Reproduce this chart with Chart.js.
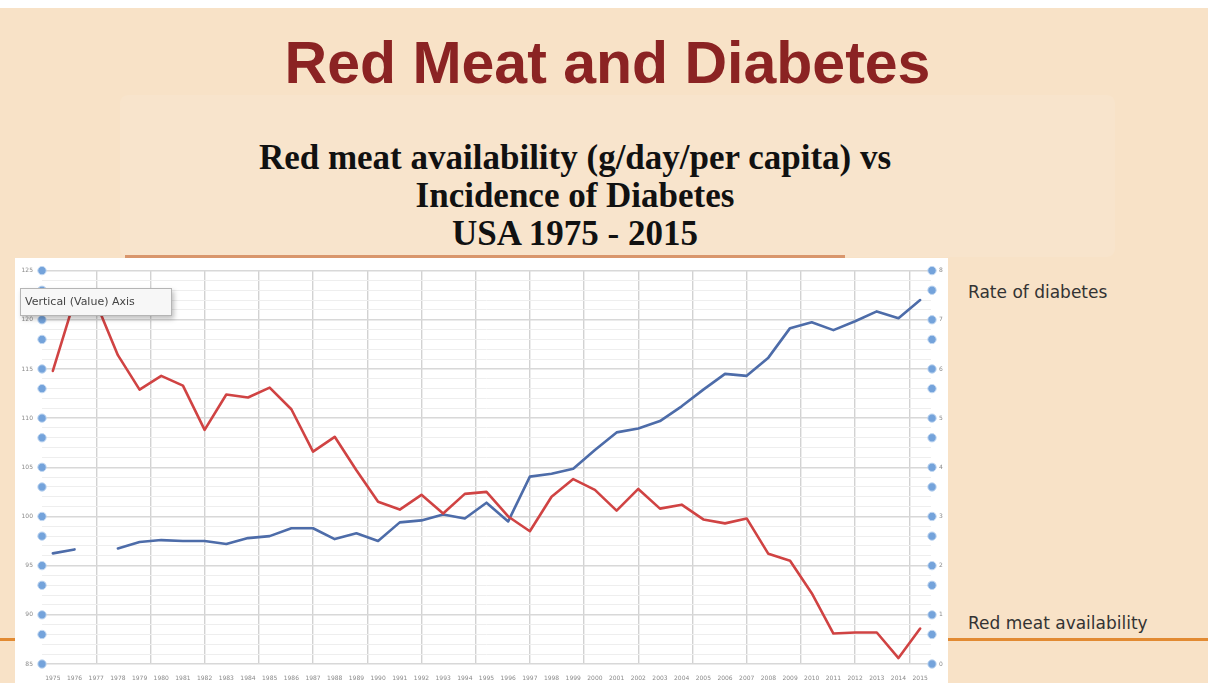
<!DOCTYPE html>
<html>
<head>
<meta charset="utf-8">
<script src="https://cdn.jsdelivr.net/npm/chart.js@4.4.0/dist/chart.umd.min.js"></script>
<style>
  html, body { margin: 0; padding: 0; background: #fff; }
  body { width: 1215px; height: 689px; position: relative; overflow: hidden; }
  .slide { position: absolute; left: 0; top: 8px; width: 1208px; height: 675px; background: #f8e2c7; }
  .panel { position: absolute; left: 120px; top: 95px; width: 995px; height: 162px; background: rgba(255,255,255,0.09); border-radius: 8px; }
  .title { position: absolute; left: 0; top: 29px; width: 1215px; text-align: center;
           font: bold 59px/68px "Liberation Sans", Arial, sans-serif; color: #8b2323; }
  .subtitle { position: absolute; left: 0; top: 139px; width: 1150px; text-align: center;
              font: bold 35px/38px "Liberation Serif", "Times New Roman", serif; color: #111; }
  .rule { position: absolute; left: 125px; top: 255px; width: 720px; height: 3px; background: #d9966c; }
  .chartbox { position: absolute; left: 15px; top: 258px; width: 933px; height: 425px; background: #fff; }
  .orange { position: absolute; top: 638px; height: 3px; background: #e28a32; }
  .side { position: absolute; left: 968px; font: 17px/18px "DejaVu Sans", Verdana, sans-serif; color: #333; }
  .tip { position: absolute; left: 20px; top: 288px; width: 146px; height: 26px; background: #f7f7f7;
         border: 1px solid #b5b5b5; box-shadow: 2px 3px 5px rgba(0,0,0,0.25);
         font: 11px/26px "DejaVu Sans", sans-serif; color: #444; padding-left: 4px; white-space: nowrap; }
</style>
</head>
<body>
<div class="slide"></div>
<div class="panel"></div>
<div class="title">Red Meat and Diabetes</div>
<div class="subtitle">Red meat availability (g/day/per capita) vs<br>Incidence of Diabetes<br>USA 1975 - 2015</div>
<div class="rule"></div>
<div class="orange" style="left:0;width:15px"></div>
<div class="orange" style="left:948px;width:260px"></div>
<div class="side" style="top:283px">Rate of diabetes</div>
<div class="side" style="top:614px">Red meat availability</div>
<div class="chartbox"><canvas id="chart" width="933" height="425"></canvas></div>
<div class="tip">Vertical (Value) Axis</div>

<script>
// Data
const years = ['1975','1976','1977','1978','1979','1980','1981','1982','1983','1984',
  '1985','1986','1987','1988','1989','1990','1991','1992','1993','1994',
  '1995','1996','1997','1998','1999','2000','2001','2002','2003','2004',
  '2005','2006','2007','2008','2009','2010','2011','2012','2013','2014','2015'];

// red meat availability, g/day per capita (left axis)
const redMeat = [114.8, 122.0, 121.7, 116.4, 112.9, 114.3, 113.3, 108.8, 112.4, 112.1,
  113.1, 110.9, 106.6, 108.1, 104.7, 101.5, 100.7, 102.2, 100.3, 102.3,
  102.5, 100.0, 98.5, 102.0, 103.8, 102.7, 100.6, 102.8, 100.8, 101.2,
  99.7, 99.3, 99.8, 96.2, 95.5, 92.2, 88.1, 88.2, 88.2, 85.6, 88.6];

// rate of diabetes, % (right axis)
const diabetes = [2.25, 2.33, null, 2.35, 2.48, 2.52, 2.50, 2.50, 2.44, 2.56,
  2.60, 2.76, 2.76, 2.54, 2.66, 2.50, 2.88, 2.92, 3.04, 2.96,
  3.28, 2.90, 3.81, 3.87, 3.97, 4.35, 4.71, 4.79, 4.94, 5.24,
  5.58, 5.90, 5.86, 6.23, 6.83, 6.95, 6.79, 6.97, 7.17, 7.03, 7.40];

const leftMin = 85, leftMax = 125, leftStep = 5;
const rightMin = 0, rightMax = 8, rightStep = 1;

// vertical gridlines of the Excel plot sit every 2.5 categories
const vGrid = [];
for (let v = 2; v < years.length; v += 2.5) vGrid.push(v);

const tickFont = { family: 'DejaVu Sans', size: 6 };

// Excel selection handles along both value axes
const axisHandles = {
  id: 'axisHandles',
  afterDraw(chart) {
    const { ctx, chartArea, scales } = chart;
    ctx.save();
    for (let v = leftMin; v <= leftMax; v++) {
      if (v % leftStep !== 0 && v % leftStep !== 3) continue;
      const y = scales.y.getPixelForValue(v);
      [chartArea.left, chartArea.right + 1].forEach(x => {
        ctx.beginPath();
        ctx.arc(x, y, 4.2, 0, Math.PI * 2);
        ctx.fillStyle = '#74a3db';
        ctx.fill();
        ctx.lineWidth = 1;
        ctx.strokeStyle = '#c3d8f1';
        ctx.stroke();
      });
    }
    ctx.restore();
  }
};

new Chart(document.getElementById('chart').getContext('2d'), {
  type: 'line',
  data: {
    labels: years,
    datasets: [
      {
        label: 'Red meat availability',
        data: redMeat,
        yAxisID: 'y',
        borderColor: '#d04343',
        borderWidth: 2.6,
        pointRadius: 0,
        tension: 0,
        borderJoinStyle: 'round',
        borderCapStyle: 'round'
      },
      {
        label: 'Rate of diabetes',
        data: diabetes,
        yAxisID: 'y1',
        borderColor: '#4d6ca9',
        borderWidth: 2.6,
        pointRadius: 0,
        tension: 0,
        spanGaps: false,
        borderJoinStyle: 'round',
        borderCapStyle: 'round'
      }
    ]
  },
  options: {
    responsive: false,
    animation: false,
    layout: { padding: { top: 9, left: 0, right: 0, bottom: 0 } },
    plugins: {
      legend: { display: false },
      tooltip: { enabled: false }
    },
    scales: {
      x: {
        type: 'category',
        offset: true,
        grid: { display: false },
        border: { display: false },
        ticks: { font: tickFont, color: '#8a8a8a', autoSkip: false, maxRotation: 0, padding: 3 },
        afterFit: s => { s.height = 19; }
      },
      xg: {
        type: 'linear',
        position: 'bottom',
        min: -0.5,
        max: years.length - 0.5,
        afterBuildTicks: s => { s.ticks = vGrid.map(v => ({ value: v })); },
        ticks: { display: false },
        grid: { color: '#d2d2d2', lineWidth: 1.4, drawTicks: false },
        border: { display: false },
        afterFit: s => { s.height = 0; }
      },
      y: {
        position: 'left',
        min: leftMin,
        max: leftMax,
        ticks: {
          stepSize: 1,
          autoSkip: false,
          font: tickFont,
          color: '#8a8a8a',
          padding: 9,
          callback: v => (v % leftStep === 0 ? v : '')
        },
        grid: {
          color: c => (c.tick.value % leftStep === 0 ? '#d8d8d8' : '#eeeeee'),
          lineWidth: c => (c.tick.value % leftStep === 0 ? 1.4 : 1),
          drawTicks: false
        },
        border: { display: false },
        afterFit: s => { s.width = 27; }
      },
      y1: {
        position: 'right',
        min: rightMin,
        max: rightMax,
        ticks: { stepSize: rightStep, font: tickFont, color: '#8a8a8a', padding: 8 },
        grid: { drawOnChartArea: false, drawTicks: false },
        border: { display: false },
        afterFit: s => { s.width = 17; }
      }
    }
  },
  plugins: [axisHandles]
});
</script>
</body>
</html>
